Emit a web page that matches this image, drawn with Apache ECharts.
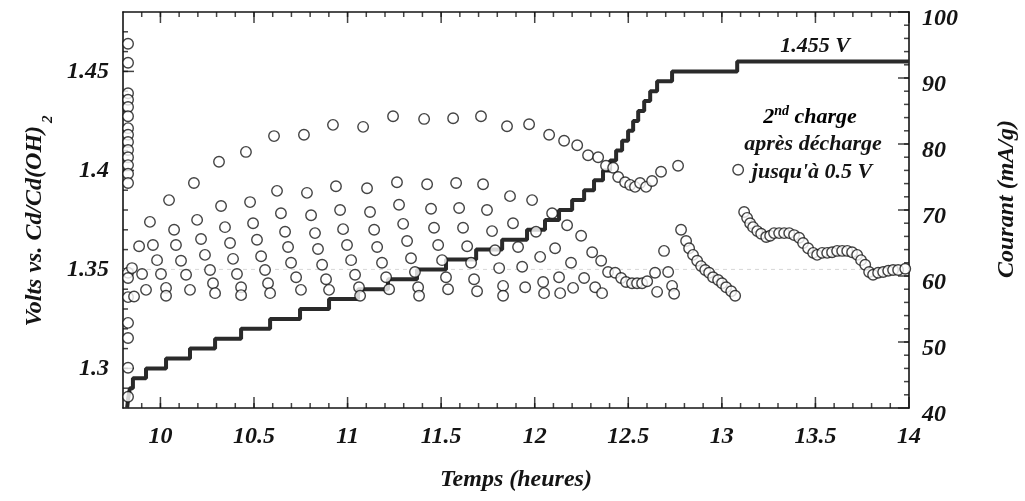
<!DOCTYPE html>
<html>
<head>
<meta charset="utf-8">
<script src="https://cdn.jsdelivr.net/npm/echarts@6/dist/echarts.min.js"></script>
<style>
html, body { margin: 0; padding: 0; background: #fff; }
#main { width: 1025px; height: 501px; }
</style>
</head>
<body>
<div id="main"></div>
<script>
// potentiostatic steps (left axis, volts): time where each level starts
var stepTimes = [9.822, 9.828, 9.837, 9.853, 9.923, 10.030, 10.158, 10.292, 10.431, 10.586, 10.746, 10.901, 11.056, 11.216, 11.371, 11.526, 11.687, 11.826, 11.959, 12.055, 12.130, 12.200, 12.264, 12.317, 12.365, 12.403, 12.435, 12.467, 12.499, 12.526, 12.553, 12.585, 12.617, 12.654, 12.734, 13.082, 14.0];
var stepVolts = [1.280, 1.285, 1.290, 1.295, 1.300, 1.305, 1.310, 1.315, 1.320, 1.325, 1.330, 1.335, 1.340, 1.345, 1.350, 1.355, 1.360, 1.365, 1.370, 1.375, 1.380, 1.385, 1.390, 1.395, 1.400, 1.405, 1.410, 1.415, 1.420, 1.425, 1.430, 1.435, 1.440, 1.445, 1.450, 1.455, 1.455];
var guideVolts = 1.35;

// current (right axis, mA/g) : [heures, mA/g]
var initialPulse = [[9.827,95.2],[9.827,92.3],[9.827,87.7],[9.827,86.7],[9.827,85.6],[9.827,84.2],[9.827,82.4],[9.827,81.4],[9.827,80.3],[9.827,79.1],[9.827,78.0],[9.827,76.8],[9.827,75.5],[9.827,74.1],[9.827,60.5],[9.827,59.7],[9.827,56.8],[9.827,52.9],[9.827,50.6],[9.827,46.1],[9.827,41.7],[9.848,61.2],[9.859,56.9],[9.886,64.5],[9.902,60.3],[9.923,57.9]];
var pulsesA = [[9.944,68.2],[9.960,64.7],[9.982,62.4],[10.003,60.3],[10.030,58.2],[10.030,57.0],
  [10.046,71.5],[10.073,67.0],[10.083,64.7],[10.110,62.3],[10.137,60.2],[10.158,57.9],
  [10.179,74.1],[10.196,68.5],[10.217,65.6],[10.238,63.2],[10.265,60.9],[10.281,58.9],[10.292,57.4],
  [10.313,77.3],[10.324,70.6],[10.345,67.4],[10.372,65.0],[10.388,62.6],[10.409,60.3],[10.431,58.3],[10.431,57.1],
  [10.457,78.8],[10.479,71.2],[10.495,68.0],[10.516,65.5],[10.538,63.0],[10.559,60.9],[10.575,58.9],[10.586,57.4],
  [10.607,81.2],[10.623,72.9],[10.644,69.5],[10.666,66.7],[10.682,64.4],[10.698,62.0],[10.725,59.8],[10.751,57.9],
  [10.767,81.4],[10.783,72.6],[10.805,69.2],[10.826,66.5],[10.842,64.1],[10.864,61.7],[10.885,59.5],[10.901,57.9]];
var pulsesB = [[10.922,82.9],[10.938,73.6],[10.960,70.0],[10.976,67.1],[10.997,64.7],[11.019,62.4],[11.040,60.2],[11.061,58.3],[11.067,57.0],
  [11.083,82.6],[11.104,73.3],[11.120,69.7],[11.142,67.0],[11.158,64.4],[11.184,62.0],[11.206,59.8],[11.222,58.0],
  [11.243,84.2],[11.264,74.2],[11.275,70.8],[11.297,67.9],[11.318,65.3],[11.339,62.7],[11.360,60.6],[11.377,58.3],[11.382,57.0],
  [11.409,83.8],[11.425,73.9],[11.446,70.2],[11.462,67.3],[11.484,64.7],[11.505,62.4],[11.526,59.8],[11.537,58.0],
  [11.564,83.9],[11.580,74.1],[11.596,70.3],[11.617,67.3],[11.639,64.5],[11.660,62.0],[11.676,59.5],[11.692,57.7],
  [11.713,84.2],[11.724,73.9],[11.745,70.0],[11.772,66.8],[11.788,63.9],[11.810,61.2],[11.831,58.5],[11.831,57.0]];
var pulsesC = [[11.852,82.7],[11.868,72.1],[11.884,68.0],[11.911,64.4],[11.933,61.4],[11.949,58.3],
  [11.970,83.0],[11.986,71.5],[12.007,66.7],[12.029,62.9],[12.045,59.1],[12.050,57.4],
  [12.077,81.4],[12.093,69.5],[12.109,64.2],[12.130,59.8],[12.136,57.4],
  [12.157,80.5],[12.173,67.7],[12.194,62.0],[12.205,58.2],
  [12.227,79.8],[12.248,66.1],[12.264,59.7],
  [12.285,78.3],[12.307,63.6],[12.323,58.3],
  [12.339,78.0],[12.355,62.3],[12.360,57.4],
  [12.381,76.7],[12.392,60.6],[12.419,76.4],[12.430,60.5],[12.446,75.0],[12.462,59.7],
  [12.483,74.2],[12.488,59.1],[12.510,73.8],[12.520,58.9],[12.536,73.5],[12.547,58.9],
  [12.563,74.1],[12.574,58.9],[12.595,73.5],[12.601,59.2],
  [12.627,74.4],[12.643,60.5],[12.654,57.6],
  [12.675,75.8],[12.691,63.8],[12.713,60.6],[12.734,58.5],[12.745,57.3]];
var step1450 = [[12.766,76.7],[12.782,67.0],[12.809,65.3],[12.825,64.2],[12.846,63.2],[12.868,62.3],[12.889,61.5],[12.911,60.9],[12.932,60.5],[12.953,59.8],[12.980,59.4],[13.001,58.9],[13.023,58.3],[13.050,57.7],[13.071,57.0]];
var step1455 = [[13.087,76.1],[13.119,69.7],[13.135,68.8],[13.151,68.0],[13.167,67.4],[13.189,66.8],[13.210,66.4],[13.237,65.9],[13.258,66.1],[13.279,66.5],[13.306,66.5],[13.333,66.5],[13.360,66.5],[13.386,66.2],[13.413,65.8],[13.434,65.0],[13.461,64.2],[13.488,63.5],[13.509,63.2],[13.536,63.5],[13.563,63.5],[13.589,63.6],[13.616,63.8],[13.643,63.8],[13.670,63.8],[13.696,63.6],[13.723,63.2],[13.744,62.4],[13.766,61.7],[13.787,60.6],[13.808,60.2],[13.835,60.5],[13.862,60.6],[13.889,60.8],[13.915,60.9],[13.942,60.9],[13.980,61.1]];

// tick marks
var xMajorTicks = [10, 10.5, 11, 11.5, 12, 12.5, 13, 13.5, 14];
var vMajorTicks = [1.3, 1.35, 1.4, 1.45];
var iMajorTicks = [40, 50, 60, 70, 80, 90, 100];

var X0 = 9.8, X1 = 14, V0 = 1.28, V1 = 1.48;
var FONT = 'Liberation Serif';
var INK = '#141414';
var labelFont = { fontFamily: FONT, fontSize: 24, fontStyle: 'italic', fontWeight: 'bold', color: INK };

var voltLine = [];
for (var k = 0; k < stepTimes.length; k++) voltLine.push([stepTimes[k], stepVolts[k]]);
var current = initialPulse.concat(pulsesA, pulsesB, pulsesC, step1450, step1455);

var xMinorTicks = [], vMinorTicks = [], iMinorTicks = [];
for (var a = 99; a < 140; a++) xMinorTicks.push(a / 10);
for (var b = 129; b < 148; b++) vMinorTicks.push(b / 100);
for (var c = 42; c < 100; c += 2) iMinorTicks.push(c);

// show a label only on multiples of the step (hides the axis ends 9.8, 1.28, 1.48)
function onStep(step) {
	return function (v) {
		var q = v / step;
		return Math.abs(q - Math.round(q)) < 1e-6 ? String(+v.toFixed(3)) : '';
	};
}

// inward tick marks, drawn as thin rect symbols at axis values
function tickSeries(points, yIdx, size, offset) {
	return {
		type: 'scatter', xAxisIndex: 0, yAxisIndex: yIdx, data: points, silent: true, clip: false,
		symbol: 'rect', symbolSize: size, symbolOffset: offset,
		itemStyle: { color: INK }
	};
}
function at(list, fn) { return list.map(fn); }

var option = {
	animation: false,
	grid: { left: 123, right: 116, top: 12, bottom: 93, outerBoundsMode: 'none' },
	xAxis: [
		{
			type: 'value', position: 'bottom', min: X0, max: X1, minInterval: 0.5, maxInterval: 0.5,
			axisLine: { show: true, onZero: false, lineStyle: { color: INK, width: 1.6 } },
			axisTick: { show: false },
			axisLabel: Object.assign({ show: true, margin: 17, formatter: onStep(0.5) }, labelFont),
			splitLine: { show: false },
			name: 'Temps (heures)', nameLocation: 'middle', nameGap: 60, nameTextStyle: labelFont
		},
		{
			type: 'value', position: 'top', min: X0, max: X1,
			axisLine: { show: true, onZero: false, lineStyle: { color: INK, width: 1.6 } },
			axisTick: { show: false }, axisLabel: { show: false }, splitLine: { show: false }
		}
	],
	yAxis: [
		{
			type: 'value', position: 'left', min: V0, max: V1, minInterval: 0.05, maxInterval: 0.05,
			axisLine: { show: true, onZero: false, lineStyle: { color: INK, width: 1.6 } },
			axisTick: { show: false },
			axisLabel: Object.assign({ show: true, margin: 14, formatter: onStep(0.05) }, labelFont),
			splitLine: { show: false },
			name: '{m|Volts vs. Cd/Cd(OH)}{s|2}', nameLocation: 'middle', nameRotate: 90, nameGap: 66,
			nameTextStyle: {
				rich: {
					m: Object.assign({ lineHeight: 24, verticalAlign: 'top' }, labelFont),
					s: { fontFamily: FONT, fontSize: 15, fontStyle: 'italic', fontWeight: 'bold', color: INK, padding: [18, 22, 0, 3], verticalAlign: 'top' }
				}
			}
		},
		{
			type: 'value', position: 'right', min: 40, max: 100, interval: 10,
			axisLine: { show: true, onZero: false, lineStyle: { color: INK, width: 1.6 } },
			axisTick: { show: false },
			axisLabel: Object.assign({ show: true, margin: 13, verticalAlign: 'top', lineHeight: 14 }, labelFont),
			splitLine: { show: false },
			name: 'Courant (mA/g)', nameLocation: 'middle', nameRotate: 90, nameGap: 86,
			nameTextStyle: Object.assign({ padding: [0, 0, 0, 22] }, labelFont)
		}
	],
	series: [
		{
			type: 'line', xAxisIndex: 0, yAxisIndex: 0, data: [[X0, guideVolts], [X1, guideVolts]], silent: true,
			showSymbol: false, lineStyle: { color: '#d6d6d6', type: [4, 4], width: 1 }
		},
		tickSeries(at(xMajorTicks, function (x) { return [x, V0]; }), 0, [1.5, 11], [0, -5.5]),
		tickSeries(at(xMajorTicks, function (x) { return [x, V1]; }), 0, [1.5, 11], [0, 5.5]),
		tickSeries(at(xMinorTicks, function (x) { return [x, V0]; }), 0, [1.5, 5], [0, -2.5]),
		tickSeries(at(xMinorTicks, function (x) { return [x, V1]; }), 0, [1.5, 5], [0, 2.5]),
		tickSeries(at(vMajorTicks, function (v) { return [X0, v]; }), 0, [11, 1.5], [5.5, 0]),
		tickSeries(at(vMinorTicks, function (v) { return [X0, v]; }), 0, [5, 1.5], [2.5, 0]),
		tickSeries(at(iMajorTicks, function (i) { return [X1, i]; }), 1, [11, 1.5], [-5.5, 0]),
		tickSeries(at(iMinorTicks, function (i) { return [X1, i]; }), 1, [5, 1.5], [-2.5, 0]),
		{
			type: 'line', xAxisIndex: 0, yAxisIndex: 0, step: 'end', data: voltLine,
			showSymbol: false, lineStyle: { color: '#2a2a2a', width: 4 }, z: 3
		},
		{
			type: 'scatter', xAxisIndex: 0, yAxisIndex: 1, data: current,
			symbol: 'circle', symbolSize: 10.5, z: 4,
			itemStyle: { color: '#fff', borderColor: INK, borderWidth: 1.4 }
		}
	],
	graphic: [
		{ type: 'text', x: 815, y: 46, style: { text: '1.455 V', align: 'center', verticalAlign: 'middle', font: 'italic bold 22px "Liberation Serif"', fill: INK } },
		{ type: 'text', x: 810, y: 116, style: {
			text: '{b|2}{p|nd}{b| charge}', align: 'center', verticalAlign: 'middle',
			rich: {
				b: { fontFamily: FONT, fontSize: 22, fontStyle: 'italic', fontWeight: 'bold', color: INK, verticalAlign: 'bottom', lineHeight: 24 },
				p: { fontFamily: FONT, fontSize: 14, fontStyle: 'italic', fontWeight: 'bold', color: INK, verticalAlign: 'top', lineHeight: 15 }
			}
		} },
		{ type: 'text', x: 813, y: 144, style: { text: 'après décharge', align: 'center', verticalAlign: 'middle', font: 'italic bold 22px "Liberation Serif"', fill: INK } },
		{ type: 'text', x: 812, y: 172, style: { text: "jusqu'à 0.5 V", align: 'center', verticalAlign: 'middle', font: 'italic bold 22px "Liberation Serif"', fill: INK } }
	]
};

var chart = echarts.init(document.getElementById('main'));
chart.setOption(option);
</script>
</body>
</html>
